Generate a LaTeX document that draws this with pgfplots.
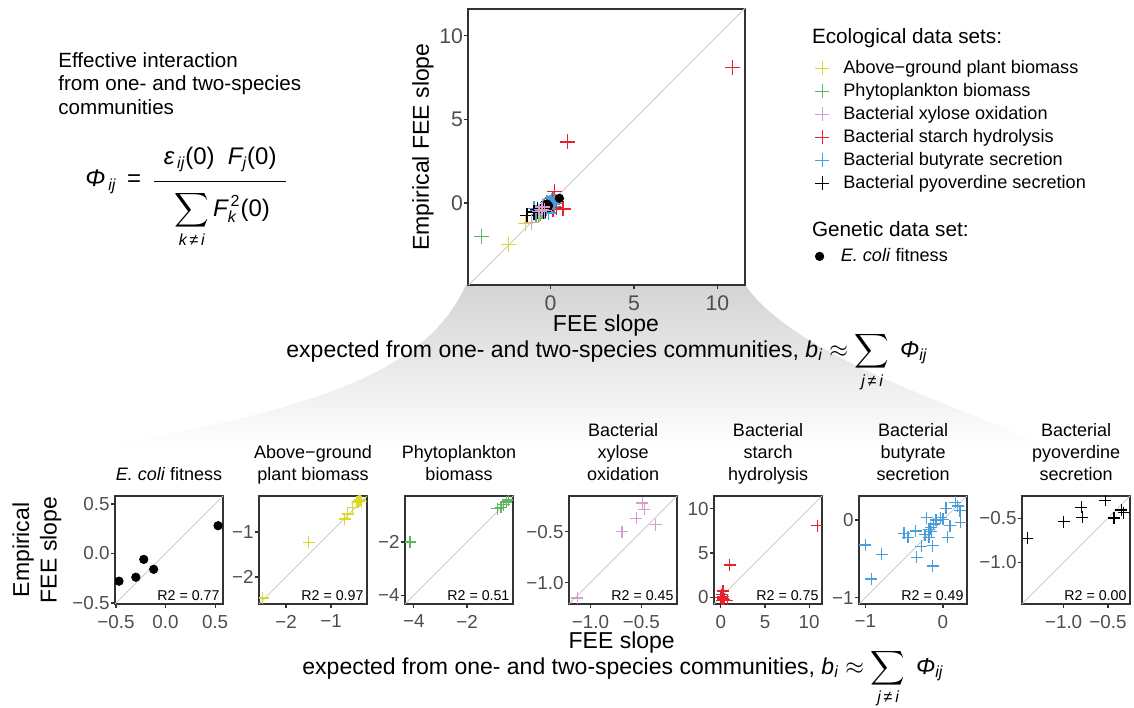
\documentclass[border=0pt]{standalone}
\usepackage{pgfplots}
\pgfplotsset{compat=1.18}
\usepackage{pgfplotstable}
\usepackage{amsmath}
\usepackage{fontspec}
\setmainfont{Liberation Sans}

\definecolor{cyel}{HTML}{D9D92B}
\definecolor{cgrn}{HTML}{5CB85C}
\definecolor{cpnk}{HTML}{D69ECF}
\definecolor{cred}{HTML}{E8212B}
\definecolor{cblu}{HTML}{4A9FDB}
\definecolor{axc}{HTML}{333333}
\definecolor{tkc}{HTML}{4D4D4D}

\pgfplotstableread{
x y
-0.47 -0.28
-0.30 -0.24
-0.22 -0.06
-0.12 -0.16
0.53 0.28
}\tEcoli
\pgfplotstableread{
x y
-2.52 -2.47
-1.50 -1.23
-0.70 -0.71
-0.63 -0.60
-0.52 -0.45
-0.42 -0.34
-0.38 -0.31
-0.33 -0.33
-0.35 -0.28
}\tAbove
\pgfplotstableread{
x y
-4.14 -2.00
-0.86 -0.75
-0.72 -0.70
-0.62 -0.60
-0.52 -0.50
-0.45 -0.42
}\tPhyto
\pgfplotstableread{
x y
-1.13 -1.15
-0.69 -0.50
-0.55 -0.37
-0.49 -0.22
-0.47 -0.28
-0.36 -0.43
}\tXylose
\pgfplotstableread{
x y
10.90 8.10
1.00 3.65
0.75 -0.35
0.00 0.00
0.10 0.30
0.20 -0.20
0.30 0.10
0.15 -0.40
0.35 -0.25
0.25 0.70
}\tStarch
\pgfplotstableread{
x y
-1.00 -0.32
-0.92 -0.76
-0.79 -0.44
-0.50 -0.17
-0.45 -0.22
-0.35 -0.14
-0.34 -0.48
-0.28 -0.34
-0.23 -0.19
-0.21 0.03
-0.18 -0.22
-0.18 -0.12
-0.16 -0.10
-0.15 -0.15
-0.13 -0.33
-0.13 -0.59
-0.12 -0.05
-0.09 0.00
-0.03 0.03
0.00 0.01
0.04 0.15
0.06 -0.22
0.09 -0.07
0.16 0.23
0.19 0.18
0.22 0.12
0.23 -0.03
}\tButyrate
\pgfplotstableread{
x y
-1.41 -0.73
-1.00 -0.54
-0.80 -0.38
-0.79 -0.49
-0.53 -0.30
-0.43 -0.50
-0.35 -0.41
-0.32 -0.44
}\tPyov

\pgfplotsset{
  base/.style={scale only axis, axis line style={draw=axc,line width=0.6pt},
    every tick/.style={draw=axc,line width=0.6pt}, tick align=outside,
    major tick length=2pt, tick pos=left, clip mode=individual, clip marker paths=true},
  panel/.style 2 args={base, width=54pt, height=54pt, anchor=south west,
    xmin=#1, xmax=#2, ymin=#1, ymax=#2,
    ticklabel style={font=\fontsize{9.4}{10}\selectfont, text=tkc},
    yticklabel style={xshift=2.8pt}},
  diag/.style={draw=black!20, line width=0.45pt, forget plot},
  pl/.style={only marks, mark=+, mark size=3pt, line width=0.65pt, color=#1},
  plm/.style={only marks, mark=+, mark size=3.75pt, line width=0.7pt, color=#1},
}
\newcommand{\ptitle}[1]{\node[anchor=south, align=center, inner sep=0pt, font=\fontsize{9}{11}\selectfont] at (rel axis cs:0.5,1) [yshift=4.2pt] {#1\strut};}
\newcommand{\rtwo}[1]{\node[anchor=south east, inner sep=1.6pt, font=\fontsize{7.1}{8}\selectfont] at (rel axis cs:1,0) {R2 = #1};}
\newcommand{\xlab}{expected from one- and two-species communities, $\textit{b}_{\textit{i}}\approx\displaystyle\sum_{\textit{j\,≠\,i}}\;\textit{Φ}_{\textit{ij}}$}

\begin{document}
\begin{tikzpicture}[x=1pt,y=1pt]
\useasboundingbox (0,0) rectangle (567,353.5);
% grey funnel
\shade[top color=black!17, bottom color=white]
  (233,211) .. controls (215,172) and (170,150) .. (47.5,130)
  -- (522.5,130) .. controls (490,148) and (400,172) .. (372.5,211) -- cycle;

% left text
\node[anchor=base west, align=left, inner sep=0pt, font=\fontsize{10.3}{11.75}\selectfont] at (29,296.3)
  {Effective interaction\\from one- and two-species\\communities};
\node[anchor=base west, inner sep=0pt, font=\fontsize{12}{14}\selectfont] at (42.5,260)
  {$\textit{Φ}_{\,\textit{ij}}\;\,\text{=}\;\,\dfrac{\makebox[66pt]{$\textit{ε}_{\,\textit{ij}}\text{(0)}\;\;\textit{F}_{\textit{j}}\text{(0)}$}\rule[-6.5pt]{0pt}{0pt}}{\rule{0pt}{16pt}\displaystyle\sum_{\textit{k\,≠\,i}}\textit{F}_{\textit{k}}^{\,\text{2}}\text{(0)}}$};

% main axis
\begin{axis}[base, at={(234pt,211pt)}, anchor=south west, width=138.5pt, height=138pt,
  xmin=-4.95, xmax=11.65, ymin=-4.9, ymax=11.6,
  xtick={0,5,10}, ytick={0,5,10}, xticklabels={0,5,10}, yticklabels={0,5,10},
  ticklabel style={font=\fontsize{10.6}{11}\selectfont, text=tkc},
  yticklabel style={xshift=3pt},
  legend style={at={(1.2527,0.819)}, anchor=north west, draw=none, fill=none, inner sep=0pt,
    row sep=2.5pt, column sep=7pt, font=\fontsize{9.05}{11}\selectfont,
    nodes={inner sep=0pt, text height=7pt, text depth=2pt}},
  legend cell align=left,
  legend image code/.code={\draw[#1, mark size=3.5pt, line width=0.6pt] plot coordinates {(0pt,0pt)};}]
\addplot[diag] coordinates {(-20,-20) (20,20)};
\addplot[plm=cyel, forget plot] table {\tAbove};
\addplot[plm=cgrn, forget plot] table {\tPhyto};
\addplot[plm=cred, forget plot] table {\tStarch};
\addplot[plm=cblu, forget plot] table {\tButyrate};
\addplot[plm=black, forget plot] table {\tPyov};
\addplot[only marks, mark=*, mark size=2.1pt, black, forget plot] table {\tEcoli};
\addplot[plm=cpnk, forget plot] table {\tXylose};
\addlegendimage{plm=cyel}\addlegendentry{Above−ground plant biomass}
\addlegendimage{plm=cgrn}\addlegendentry{Phytoplankton biomass}
\addlegendimage{plm=cpnk}\addlegendentry{Bacterial xylose oxidation}
\addlegendimage{plm=cred}\addlegendentry{Bacterial starch hydrolysis}
\addlegendimage{plm=cblu}\addlegendentry{Bacterial butyrate secretion}
\addlegendimage{plm=black}\addlegendentry{Bacterial pyoverdine secretion}
\end{axis}
% second legend
\begin{axis}[at={(234pt,211pt)}, anchor=south west, scale only axis, width=138.5pt, height=138pt,
  hide axis, xmin=0, xmax=1, ymin=0, ymax=1,
  legend style={at={(1.2527,0.1377)}, anchor=north west, draw=none, fill=none, inner sep=0pt,
    column sep=8.5pt, font=\fontsize{9.05}{11}\selectfont,
    nodes={inner sep=0pt, text height=7pt, text depth=2pt}},
  legend cell align=left,
  legend image code/.code={\draw[#1] plot coordinates {(0pt,0pt)};}]
\addplot[draw=none, forget plot] coordinates {(0.5,0.5)};
\addlegendimage{only marks, mark=*, mark size=2.1pt, black}
\addlegendentry{\textit{E. coli} fitness}
\end{axis}

\node[anchor=base west, inner sep=0pt, font=\fontsize{10.36}{11}\selectfont] at (405.8,331.5) {Ecological data sets:};
\node[anchor=base west, inner sep=0pt, font=\fontsize{10.36}{11}\selectfont] at (405.8,235.1) {Genetic data set:};

\node[rotate=90, font=\fontsize{11.5}{13}\selectfont] at (211.5,280) {Empirical FEE slope};
\node[anchor=base, inner sep=0pt, font=\fontsize{11.5}{13}\selectfont] at (303,187.5) {FEE slope};
\node[anchor=base, inner sep=0pt, font=\fontsize{11.5}{13}\selectfont] at (303.5,174.8) {\xlab};

% bottom panels
\begin{axis}[panel={-0.51}{0.58}, at={(57.5pt,51.5pt)},
  xtick={-0.5,0,0.5}, ytick={-0.5,0,0.5}, xticklabels={−0.5,0.0,0.5}, yticklabels={−0.5,0.0,0.5}]
\addplot[diag] coordinates {(-20,-20) (20,20)};
\addplot[only marks, mark=*, mark size=2.1pt, black] table {\tEcoli};
\ptitle{\textit{E. coli} fitness}
\rtwo{0.77}
\end{axis}
\begin{axis}[panel={-2.6}{-0.2}, at={(129.5pt,51.5pt)},
  xtick={-2,-1}, ytick={-2,-1}, xticklabels={−2,−1}, yticklabels={−2,−1}]
\addplot[diag] coordinates {(-20,-20) (20,20)};
\addplot[pl=cyel] table {\tAbove};
\ptitle{Above−ground\\plant biomass}
\rtwo{0.97}
\end{axis}
\begin{axis}[panel={-4.33}{-0.27}, at={(202.5pt,51.5pt)},
  xtick={-4,-2}, ytick={-4,-2}, xticklabels={−4,−2}, yticklabels={−4,−2}]
\addplot[diag] coordinates {(-20,-20) (20,20)};
\addplot[pl=cgrn] table {\tPhyto};
\ptitle{Phytoplankton\\biomass}
\rtwo{0.51}
\end{axis}
\begin{axis}[panel={-1.21}{-0.15}, at={(284.5pt,51.5pt)},
  xtick={-1,-0.5}, ytick={-1,-0.5}, xticklabels={−1.0,−0.5}, yticklabels={−1.0,−0.5}]
\addplot[diag] coordinates {(-20,-20) (20,20)};
\addplot[pl=cpnk] table {\tXylose};
\ptitle{Bacterial\\xylose\\oxidation}
\rtwo{0.45}
\end{axis}
\begin{axis}[panel={-0.77}{11.45}, at={(357pt,51.5pt)},
  xtick={0,5,10}, ytick={0,5,10}, xticklabels={0,5,10}, yticklabels={0,5,10}]
\addplot[diag] coordinates {(-20,-20) (20,20)};
\addplot[pl=cred] table {\tStarch};
\ptitle{Bacterial\\starch\\hydrolysis}
\rtwo{0.75}
\end{axis}
\begin{axis}[panel={-1.08}{0.31}, at={(429.5pt,51.5pt)},
  xtick={-1,0}, ytick={-1,0}, xticklabels={−1,0}, yticklabels={−1,0}]
\addplot[diag] coordinates {(-20,-20) (20,20)};
\addplot[pl=cblu] table {\tButyrate};
\ptitle{Bacterial\\butyrate\\secretion}
\rtwo{0.49}
\end{axis}
\begin{axis}[panel={-1.47}{-0.25}, at={(511pt,51.5pt)},
  xtick={-1,-0.5}, ytick={-1,-0.5}, xticklabels={−1.0,−0.5}, yticklabels={−1.0,−0.5}]
\addplot[diag] coordinates {(-20,-20) (20,20)};
\addplot[pl=black] table {\tPyov};
\ptitle{Bacterial\\pyoverdine\\secretion}
\rtwo{0.00}
\end{axis}

\node[rotate=90, align=center, font=\fontsize{11.5}{13.75}\selectfont] at (18.5,78.5) {Empirical\\FEE slope};
\node[anchor=base, inner sep=0pt, font=\fontsize{11.5}{13}\selectfont] at (310.85,29.5) {FEE slope};
\node[anchor=base, inner sep=0pt, font=\fontsize{11.5}{13}\selectfont] at (311.5,16.5) {\xlab};
\end{tikzpicture}
\end{document}
